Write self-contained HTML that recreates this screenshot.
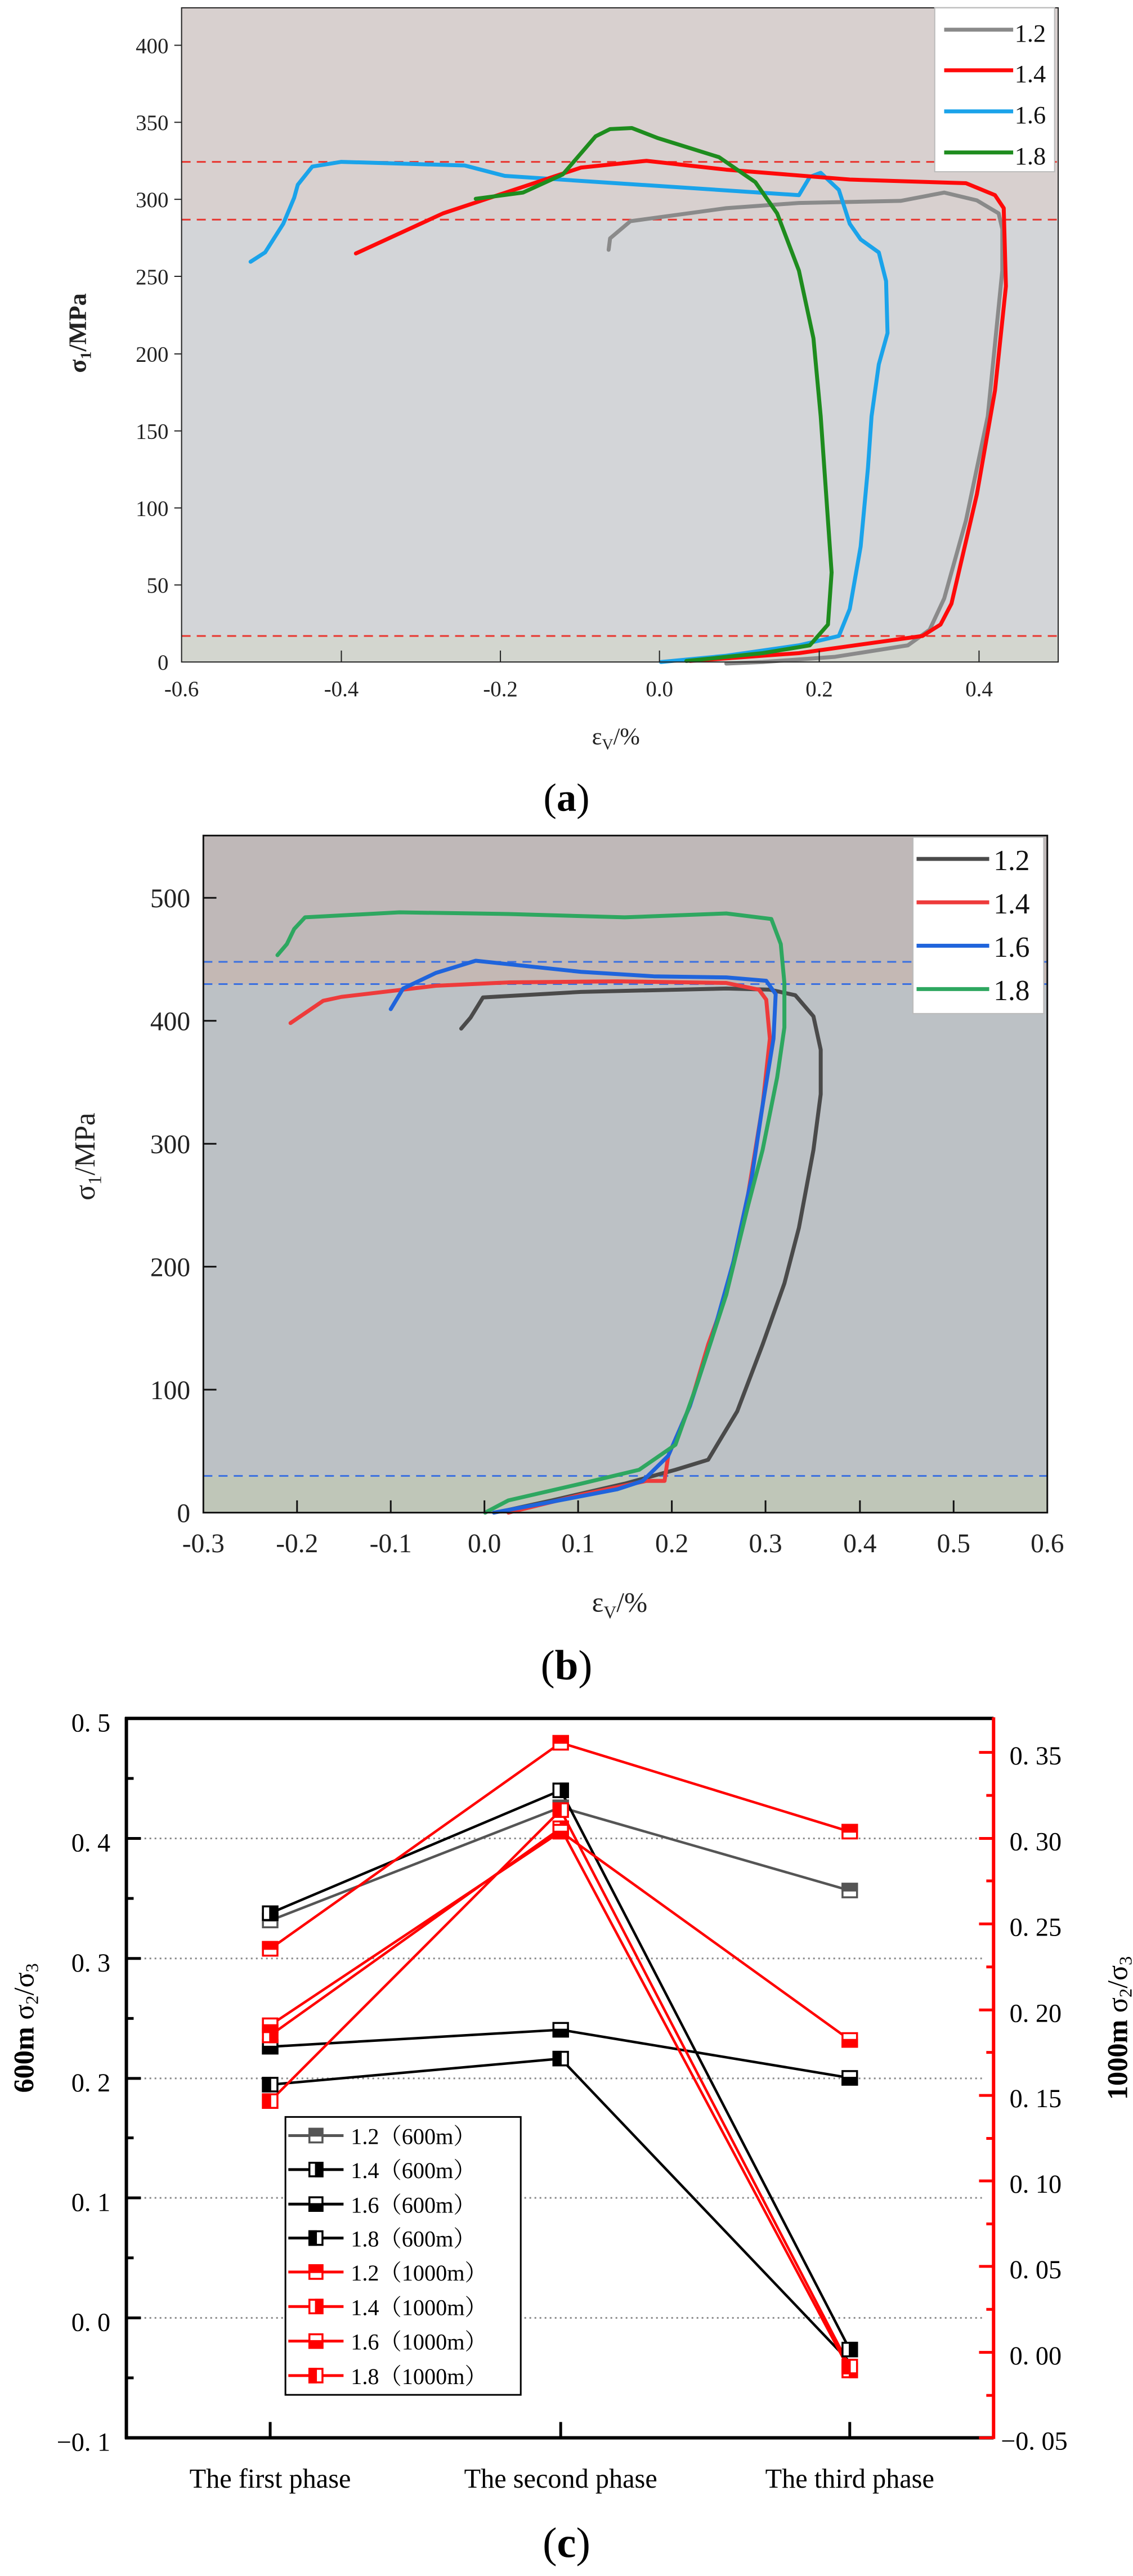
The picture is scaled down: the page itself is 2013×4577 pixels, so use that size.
<!DOCTYPE html>
<html><head><meta charset="utf-8"><style>html,body{margin:0;padding:0;background:#fff;overflow:hidden}svg{display:block}
.n{vector-effect:non-scaling-stroke}
line,polyline,rect{vector-effect:non-scaling-stroke}
</style></head>
<body>
<svg width="2013" height="4577" xmlns="http://www.w3.org/2000/svg" font-family="'Liberation Serif','Noto Serif CJK SC',serif">

<!-- ===== Panel (a) ===== sx=1.2904 sy=0.9247, k=0.7166 -->
<g transform="translate(0,0) scale(1.2904,0.9247)">
<rect x="250" y="15" width="1207" height="407" fill="#d8d0cf"/>
<rect x="250" y="422" width="1207" height="800" fill="#d3d5d8"/>
<rect x="250" y="1222" width="1207" height="50" fill="#d3d6cf"/>
<g stroke="#e8352f" stroke-width="3" stroke-dasharray="16 11">
<line x1="250" y1="311" x2="1457" y2="311"/><line x1="250" y1="422" x2="1457" y2="422"/><line x1="250" y1="1222" x2="1457" y2="1222"/></g>
<g fill="none" stroke-width="7" stroke-linejoin="round" stroke-linecap="round">
<polyline stroke="#8a8a8a" points="838,480 840,458 868,425 1000,400 1100,390 1240,386 1300,370 1345,385 1375,410 1380,440 1380,520 1360,800 1330,1000 1300,1150 1280,1210 1250,1240 1150,1262 1050,1272 1000,1275"/>
<polyline stroke="#1aa3ea" points="345,503 365,485 390,430 405,380 410,355 430,320 470,311 640,318 695,338 1100,375 1115,340 1130,332 1155,365 1170,430 1185,460 1210,485 1220,540 1222,640 1210,700 1200,800 1195,900 1185,1050 1170,1170 1155,1222 1100,1240 1000,1260 910,1272"/>
<polyline stroke="#ff0a0a" points="490,487 610,410 800,322 890,309 1000,326 1170,345 1330,352 1370,375 1382,400 1385,550 1370,750 1345,950 1320,1100 1310,1160 1295,1200 1270,1222 1100,1255 950,1270"/>
<polyline stroke="#1e8c1e" points="655,382 720,370 775,335 820,262 840,248 870,246 905,265 990,302 1040,350 1070,410 1100,520 1120,650 1130,800 1140,1000 1145,1100 1140,1200 1115,1240 1050,1255 945,1270"/>
</g>
<rect x="250" y="15" width="1207" height="1257" fill="none" stroke="#222" stroke-width="2"/>
<rect x="1287" y="15" width="165" height="315" fill="#fff" stroke="#bbb" stroke-width="2"/>
<g stroke-width="7"><line x1="1300" y1="57" x2="1395" y2="57" stroke="#8a8a8a"/><line x1="1300" y1="135" x2="1395" y2="135" stroke="#ff0a0a"/><line x1="1300" y1="214" x2="1395" y2="214" stroke="#1aa3ea"/><line x1="1300" y1="293" x2="1395" y2="293" stroke="#1e8c1e"/></g>
<g stroke="#222" stroke-width="2">
<line x1="240" y1="87" x2="250" y2="87"/><line x1="240" y1="235" x2="250" y2="235"/><line x1="240" y1="383" x2="250" y2="383"/><line x1="240" y1="531" x2="250" y2="531"/><line x1="240" y1="680" x2="250" y2="680"/><line x1="240" y1="828" x2="250" y2="828"/><line x1="240" y1="976" x2="250" y2="976"/><line x1="240" y1="1124" x2="250" y2="1124"/>
<line x1="470" y1="1250" x2="470" y2="1272"/><line x1="689" y1="1250" x2="689" y2="1272"/><line x1="908" y1="1250" x2="908" y2="1272"/><line x1="1128" y1="1250" x2="1128" y2="1272"/><line x1="1348" y1="1250" x2="1348" y2="1272"/></g>
<g font-size="48" fill="#111">
<text transform="translate(1397,80) scale(.7166,1)">1.2</text><text transform="translate(1397,158) scale(.7166,1)">1.4</text><text transform="translate(1397,237) scale(.7166,1)">1.6</text><text transform="translate(1397,316) scale(.7166,1)">1.8</text></g>
<g font-size="42" fill="#222" text-anchor="end">
<text transform="translate(232,102) scale(.7166,1)">400</text><text transform="translate(232,250) scale(.7166,1)">350</text><text transform="translate(232,398) scale(.7166,1)">300</text><text transform="translate(232,546) scale(.7166,1)">250</text><text transform="translate(232,695) scale(.7166,1)">200</text><text transform="translate(232,843) scale(.7166,1)">150</text><text transform="translate(232,991) scale(.7166,1)">100</text><text transform="translate(232,1139) scale(.7166,1)">50</text><text transform="translate(232,1287) scale(.7166,1)">0</text></g>
<g font-size="42" fill="#222" text-anchor="middle">
<text transform="translate(250,1338) scale(.7166,1)">-0.6</text><text transform="translate(470,1338) scale(.7166,1)">-0.4</text><text transform="translate(689,1338) scale(.7166,1)">-0.2</text><text transform="translate(908,1338) scale(.7166,1)">0.0</text><text transform="translate(1128,1338) scale(.7166,1)">0.2</text><text transform="translate(1348,1338) scale(.7166,1)">0.4</text></g>
<text transform="translate(815,1430) scale(.7166,1)" font-size="46" fill="#222">ε<tspan font-size="30" dy="10">V</tspan><tspan dy="-10">/%</tspan></text>
<text transform="translate(118,640) scale(.7166,1) rotate(-90)" font-size="48" font-weight="bold" fill="#222" text-anchor="middle">σ<tspan font-size="30" dy="10">1</tspan><tspan dy="-10">/MPa</tspan></text>
<text transform="translate(780,1558) scale(.7166,1)" font-size="76" fill="#000" text-anchor="middle">(<tspan font-weight="bold">a</tspan>)</text>
</g>

<!-- ===== Panel (b) ===== sy=0.9885 k=0.7661 -->
<g transform="translate(0,1450) scale(1.2904,0.9885)">
<rect x="280" y="35" width="1162" height="227" fill="#bfb8b8"/>
<rect x="280" y="262" width="1162" height="40" fill="#c4b8b4"/>
<rect x="280" y="302" width="1162" height="884" fill="#bcc1c5"/>
<rect x="280" y="1186" width="1162" height="66" fill="#bfc6b8"/>
<g stroke="#3a6fe0" stroke-width="3" stroke-dasharray="16 11">
<line x1="280" y1="262" x2="1442" y2="262"/><line x1="280" y1="302" x2="1442" y2="302"/><line x1="280" y1="1186" x2="1442" y2="1186"/></g>
<g fill="none" stroke-width="7" stroke-linejoin="round" stroke-linecap="round">
<polyline stroke="#4a4a4a" points="635,382 648,362 665,326 800,316 1000,310 1060,312 1095,322 1120,360 1130,420 1130,500 1120,600 1100,740 1080,840 1050,950 1015,1070 975,1157 930,1175 860,1200 760,1230 690,1250"/>
<polyline stroke="#ee3b3b" points="400,372 445,332 470,325 600,305 700,299 850,297 1000,300 1045,312 1055,330 1060,400 1050,520 1030,680 1000,860 975,950 950,1060 920,1150 915,1195 890,1195 800,1220 700,1252"/>
<polyline stroke="#1f64dc" points="538,347 555,310 600,282 655,260 800,280 900,288 1000,290 1055,296 1068,320 1065,400 1050,520 1035,650 1010,800 980,940 950,1060 920,1150 885,1195 850,1210 750,1235 680,1252"/>
<polyline stroke="#2ea760" points="382,250 395,230 405,203 420,182 550,173 700,176 860,182 1000,175 1062,185 1075,230 1080,300 1080,380 1070,470 1050,600 1030,700 1000,860 960,1020 930,1130 880,1175 800,1200 700,1230 668,1252"/>
</g>
<rect x="280" y="35" width="1162" height="1217" fill="none" stroke="#111" stroke-width="3"/>
<rect x="1257" y="38" width="180" height="317" fill="#fff" stroke="#bbb" stroke-width="2"/>
<g stroke-width="7"><line x1="1262" y1="77" x2="1362" y2="77" stroke="#4a4a4a"/><line x1="1262" y1="155" x2="1362" y2="155" stroke="#ee3b3b"/><line x1="1262" y1="233" x2="1362" y2="233" stroke="#1f64dc"/><line x1="1262" y1="311" x2="1362" y2="311" stroke="#2ea760"/></g>
<g stroke="#111" stroke-width="3">
<line x1="280" y1="147" x2="298" y2="147"/><line x1="280" y1="368" x2="298" y2="368"/><line x1="280" y1="589" x2="298" y2="589"/><line x1="280" y1="810" x2="298" y2="810"/><line x1="280" y1="1031" x2="298" y2="1031"/>
<line x1="409" y1="1230" x2="409" y2="1252"/><line x1="538" y1="1230" x2="538" y2="1252"/><line x1="667" y1="1230" x2="667" y2="1252"/><line x1="796" y1="1230" x2="796" y2="1252"/><line x1="925" y1="1230" x2="925" y2="1252"/><line x1="1054" y1="1230" x2="1054" y2="1252"/><line x1="1184" y1="1230" x2="1184" y2="1252"/><line x1="1313" y1="1230" x2="1313" y2="1252"/></g>
<g font-size="52" fill="#111">
<text transform="translate(1368,97) scale(.7661,1)">1.2</text><text transform="translate(1368,175) scale(.7661,1)">1.4</text><text transform="translate(1368,253) scale(.7661,1)">1.6</text><text transform="translate(1368,331) scale(.7661,1)">1.8</text></g>
<g font-size="48" fill="#222" text-anchor="end">
<text transform="translate(262,164) scale(.7661,1)">500</text><text transform="translate(262,385) scale(.7661,1)">400</text><text transform="translate(262,606) scale(.7661,1)">300</text><text transform="translate(262,827) scale(.7661,1)">200</text><text transform="translate(262,1048) scale(.7661,1)">100</text><text transform="translate(262,1269) scale(.7661,1)">0</text></g>
<g font-size="48" fill="#222" text-anchor="middle">
<text transform="translate(280,1323) scale(.7661,1)">-0.3</text><text transform="translate(409,1323) scale(.7661,1)">-0.2</text><text transform="translate(538,1323) scale(.7661,1)">-0.1</text><text transform="translate(667,1323) scale(.7661,1)">0.0</text><text transform="translate(796,1323) scale(.7661,1)">0.1</text><text transform="translate(925,1323) scale(.7661,1)">0.2</text><text transform="translate(1054,1323) scale(.7661,1)">0.3</text><text transform="translate(1184,1323) scale(.7661,1)">0.4</text><text transform="translate(1313,1323) scale(.7661,1)">0.5</text><text transform="translate(1442,1323) scale(.7661,1)">0.6</text></g>
<text transform="translate(815,1430) scale(.7661,1)" font-size="50" fill="#222">ε<tspan font-size="32" dy="12">V</tspan><tspan dy="-12">/%</tspan></text>
<text transform="translate(130,612) scale(.7661,1) rotate(-90)" font-size="52" fill="#222" text-anchor="middle">σ<tspan font-size="34" dy="12">1</tspan><tspan dy="-12">/MPa</tspan></text>
<text transform="translate(780,1552) scale(.7661,1)" font-size="76" fill="#000" text-anchor="middle">(<tspan font-weight="bold">b</tspan>)</text>
</g>

<!-- ===== Panel (c) ===== sy=1.0057 k=0.7794 -->
<g transform="translate(0,3000) scale(1.2904,1.0057)">
<g stroke="#888" stroke-width="3" stroke-dasharray="3 6">
<line x1="178" y1="265" x2="1352" y2="265"/><line x1="178" y1="477" x2="1352" y2="477"/><line x1="178" y1="689" x2="1352" y2="689"/><line x1="178" y1="900" x2="1352" y2="900"/><line x1="178" y1="1112" x2="1352" y2="1112"/></g>
<g fill="none" stroke-width="4.5" stroke-linejoin="round">
<polyline stroke="#555" points="372,410 772,210 1170,357"/>
<polyline stroke="#000" points="372,397 772,180 1170,1168"/>
<polyline stroke="#000" points="372,633 772,603 1170,688"/>
<polyline stroke="#000" points="372,700 772,654 1170,1190"/>
<polyline stroke="#f00" points="372,460 772,96 1170,253"/>
<polyline stroke="#f00" points="372,595 772,253 1170,621"/>
<polyline stroke="#f00" points="372,613 772,247 1170,1205"/>
<polyline stroke="#f00" points="372,729 772,215 1170,1198"/>
</g>
<g stroke-width="3.5">
<g stroke="#555" fill="#555">
<g transform="translate(372,410)"><rect x="-10" y="-12" width="20" height="24" fill="#fff"/><rect x="-10" y="-12" width="20" height="12"/></g>
<g transform="translate(772,210)"><rect x="-10" y="-12" width="20" height="24" fill="#fff"/><rect x="-10" y="-12" width="20" height="12"/></g>
<g transform="translate(1170,357)"><rect x="-10" y="-12" width="20" height="24" fill="#fff"/><rect x="-10" y="-12" width="20" height="12"/></g></g>
<g stroke="#000" fill="#000">
<g transform="translate(372,397)"><rect x="-10" y="-12" width="20" height="24" fill="#fff"/><rect x="0" y="-12" width="10" height="24"/></g>
<g transform="translate(772,180)"><rect x="-10" y="-12" width="20" height="24" fill="#fff"/><rect x="0" y="-12" width="10" height="24"/></g>
<g transform="translate(1170,1168)"><rect x="-10" y="-12" width="20" height="24" fill="#fff"/><rect x="0" y="-12" width="10" height="24"/></g>
<g transform="translate(372,633)"><rect x="-10" y="-12" width="20" height="24" fill="#fff"/><rect x="-10" y="0" width="20" height="12"/></g>
<g transform="translate(772,603)"><rect x="-10" y="-12" width="20" height="24" fill="#fff"/><rect x="-10" y="0" width="20" height="12"/></g>
<g transform="translate(1170,688)"><rect x="-10" y="-12" width="20" height="24" fill="#fff"/><rect x="-10" y="0" width="20" height="12"/></g>
<g transform="translate(372,700)"><rect x="-10" y="-12" width="20" height="24" fill="#fff"/><rect x="-10" y="-12" width="10" height="24"/></g>
<g transform="translate(772,654)"><rect x="-10" y="-12" width="20" height="24" fill="#fff"/><rect x="-10" y="-12" width="10" height="24"/></g></g>
<g stroke="#f00" fill="#f00">
<g transform="translate(372,460)"><rect x="-10" y="-12" width="20" height="24" fill="#fff"/><rect x="-10" y="-12" width="20" height="12"/></g>
<g transform="translate(772,96)"><rect x="-10" y="-12" width="20" height="24" fill="#fff"/><rect x="-10" y="-12" width="20" height="12"/></g>
<g transform="translate(1170,253)"><rect x="-10" y="-12" width="20" height="24" fill="#fff"/><rect x="-10" y="-12" width="20" height="12"/></g>
<g transform="translate(372,613)"><rect x="-10" y="-12" width="20" height="24" fill="#fff"/><rect x="0" y="-12" width="10" height="24"/></g>
<g transform="translate(772,247)"><rect x="-10" y="-12" width="20" height="24" fill="#fff"/><rect x="0" y="-12" width="10" height="24"/></g>
<g transform="translate(1170,1205)"><rect x="-10" y="-12" width="20" height="24" fill="#fff"/><rect x="0" y="-12" width="10" height="24"/></g>
<g transform="translate(372,595)"><rect x="-10" y="-12" width="20" height="24" fill="#fff"/><rect x="-10" y="0" width="20" height="12"/></g>
<g transform="translate(772,253)"><rect x="-10" y="-12" width="20" height="24" fill="#fff"/><rect x="-10" y="0" width="20" height="12"/></g>
<g transform="translate(1170,621)"><rect x="-10" y="-12" width="20" height="24" fill="#fff"/><rect x="-10" y="0" width="20" height="12"/></g>
<g transform="translate(372,729)"><rect x="-10" y="-12" width="20" height="24" fill="#fff"/><rect x="-10" y="-12" width="10" height="24"/></g>
<g transform="translate(772,215)"><rect x="-10" y="-12" width="20" height="24" fill="#fff"/><rect x="-10" y="-12" width="10" height="24"/></g>
<g transform="translate(1170,1198)"><rect x="-10" y="-12" width="20" height="24" fill="#fff"/><rect x="-10" y="-12" width="10" height="24"/></g></g>
</g>
<g stroke="#000" stroke-width="6" fill="none">
<line x1="172" y1="53" x2="1368" y2="53"/><line x1="174" y1="51" x2="174" y2="1326"/><line x1="172" y1="1324" x2="1368" y2="1324"/></g>
<line x1="1368" y1="51" x2="1368" y2="1326" stroke="#f00" stroke-width="6"/>
<g stroke="#000" stroke-width="5">
<line x1="174" y1="159" x2="184" y2="159"/><line x1="174" y1="265" x2="194" y2="265"/><line x1="174" y1="371" x2="184" y2="371"/><line x1="174" y1="477" x2="194" y2="477"/><line x1="174" y1="583" x2="184" y2="583"/><line x1="174" y1="689" x2="194" y2="689"/><line x1="174" y1="794" x2="184" y2="794"/><line x1="174" y1="900" x2="194" y2="900"/><line x1="174" y1="1006" x2="184" y2="1006"/><line x1="174" y1="1112" x2="194" y2="1112"/><line x1="174" y1="1218" x2="184" y2="1218"/>
<line x1="372" y1="1296" x2="372" y2="1324"/><line x1="772" y1="1296" x2="772" y2="1324"/><line x1="1170" y1="1296" x2="1170" y2="1324"/></g>
<g stroke="#f00" stroke-width="5">
<line x1="1348" y1="113" x2="1368" y2="113"/><line x1="1348" y1="265" x2="1368" y2="265"/><line x1="1348" y1="416" x2="1368" y2="416"/><line x1="1348" y1="568" x2="1368" y2="568"/><line x1="1348" y1="719" x2="1368" y2="719"/><line x1="1348" y1="870" x2="1368" y2="870"/><line x1="1348" y1="1021" x2="1368" y2="1021"/><line x1="1348" y1="1173" x2="1368" y2="1173"/><line x1="1348" y1="1324" x2="1368" y2="1324"/>
<line x1="1358" y1="189" x2="1368" y2="189"/><line x1="1358" y1="340" x2="1368" y2="340"/><line x1="1358" y1="492" x2="1368" y2="492"/><line x1="1358" y1="643" x2="1368" y2="643"/><line x1="1358" y1="795" x2="1368" y2="795"/><line x1="1358" y1="946" x2="1368" y2="946"/><line x1="1358" y1="1097" x2="1368" y2="1097"/><line x1="1358" y1="1249" x2="1368" y2="1249"/></g>
<g font-size="46" fill="#000" text-anchor="end">
<text transform="translate(152,76) scale(.7794,1)">0. 5</text><text transform="translate(152,288) scale(.7794,1)">0. 4</text><text transform="translate(152,500) scale(.7794,1)">0. 3</text><text transform="translate(152,712) scale(.7794,1)">0. 2</text><text transform="translate(152,923) scale(.7794,1)">0. 1</text><text transform="translate(152,1135) scale(.7794,1)">0. 0</text><text transform="translate(152,1347) scale(.7794,1)">−0. 1</text></g>
<g font-size="46" fill="#000">
<text transform="translate(1390,134) scale(.7794,1)">0. 35</text><text transform="translate(1390,286) scale(.7794,1)">0. 30</text><text transform="translate(1390,437) scale(.7794,1)">0. 25</text><text transform="translate(1390,589) scale(.7794,1)">0. 20</text><text transform="translate(1390,740) scale(.7794,1)">0. 15</text><text transform="translate(1390,891) scale(.7794,1)">0. 10</text><text transform="translate(1390,1042) scale(.7794,1)">0. 05</text><text transform="translate(1390,1194) scale(.7794,1)">0. 00</text><text transform="translate(1378,1345) scale(.7794,1)">−0. 05</text></g>
<g font-size="48" fill="#000" text-anchor="middle">
<text transform="translate(372,1412) scale(.7794,1)">The first phase</text><text transform="translate(772,1412) scale(.7794,1)">The second phase</text><text transform="translate(1170,1412) scale(.7794,1)">The third phase</text></g>
<text transform="translate(46,600) scale(.7794,1) rotate(-90)" font-size="50" fill="#000" text-anchor="middle"><tspan font-weight="bold">600m</tspan>   σ<tspan font-size="32" dy="8">2</tspan><tspan dy="-8">/σ</tspan><tspan font-size="32" dy="8">3</tspan></text>
<text transform="translate(1552,600) scale(.7794,1) rotate(-90)" font-size="50" fill="#000" text-anchor="middle"><tspan font-weight="bold">1000m</tspan>   σ<tspan font-size="32" dy="8">2</tspan><tspan dy="-8">/σ</tspan><tspan font-size="32" dy="8">3</tspan></text>
<rect x="393" y="757" width="324" height="491" fill="#fff" stroke="#000" stroke-width="3"/>
<g stroke-width="5">
<line x1="397" y1="790" x2="473" y2="790" stroke="#555"/><line x1="397" y1="850" x2="473" y2="850" stroke="#000"/><line x1="397" y1="911" x2="473" y2="911" stroke="#000"/><line x1="397" y1="971" x2="473" y2="971" stroke="#000"/>
<line x1="397" y1="1031" x2="473" y2="1031" stroke="#f00"/><line x1="397" y1="1092" x2="473" y2="1092" stroke="#f00"/><line x1="397" y1="1153" x2="473" y2="1153" stroke="#f00"/><line x1="397" y1="1214" x2="473" y2="1214" stroke="#f00"/></g>
<g stroke-width="3.5">
<g stroke="#555" fill="#555" transform="translate(435,790)"><rect x="-9" y="-12" width="18" height="24" fill="#fff"/><rect x="-9" y="-12" width="18" height="12"/></g>
<g stroke="#000" fill="#000" transform="translate(435,850)"><rect x="-9" y="-12" width="18" height="24" fill="#fff"/><rect x="0" y="-12" width="9" height="24"/></g>
<g stroke="#000" fill="#000" transform="translate(435,911)"><rect x="-9" y="-12" width="18" height="24" fill="#fff"/><rect x="-9" y="0" width="18" height="12"/></g>
<g stroke="#000" fill="#000" transform="translate(435,971)"><rect x="-9" y="-12" width="18" height="24" fill="#fff"/><rect x="-9" y="-12" width="9" height="24"/></g>
<g stroke="#f00" fill="#f00" transform="translate(435,1031)"><rect x="-9" y="-12" width="18" height="24" fill="#fff"/><rect x="-9" y="-12" width="18" height="12"/></g>
<g stroke="#f00" fill="#f00" transform="translate(435,1092)"><rect x="-9" y="-12" width="18" height="24" fill="#fff"/><rect x="0" y="-12" width="9" height="24"/></g>
<g stroke="#f00" fill="#f00" transform="translate(435,1153)"><rect x="-9" y="-12" width="18" height="24" fill="#fff"/><rect x="-9" y="0" width="18" height="12"/></g>
<g stroke="#f00" fill="#f00" transform="translate(435,1214)"><rect x="-9" y="-12" width="18" height="24" fill="#fff"/><rect x="-9" y="-12" width="9" height="24"/></g></g>
<g font-size="40" fill="#000">
<text transform="translate(483,805) scale(.7794,1)">1.2（600m）</text><text transform="translate(483,865) scale(.7794,1)">1.4（600m）</text><text transform="translate(483,926) scale(.7794,1)">1.6（600m）</text><text transform="translate(483,986) scale(.7794,1)">1.8（600m）</text>
<text transform="translate(483,1046) scale(.7794,1)">1.2（1000m）</text><text transform="translate(483,1107) scale(.7794,1)">1.4（1000m）</text><text transform="translate(483,1168) scale(.7794,1)">1.6（1000m）</text><text transform="translate(483,1229) scale(.7794,1)">1.8（1000m）</text></g>
<text transform="translate(780,1535) scale(.7794,1)" font-size="76" fill="#000" text-anchor="middle">(<tspan font-weight="bold">c</tspan>)</text>
</g>
</svg>
</body></html>
